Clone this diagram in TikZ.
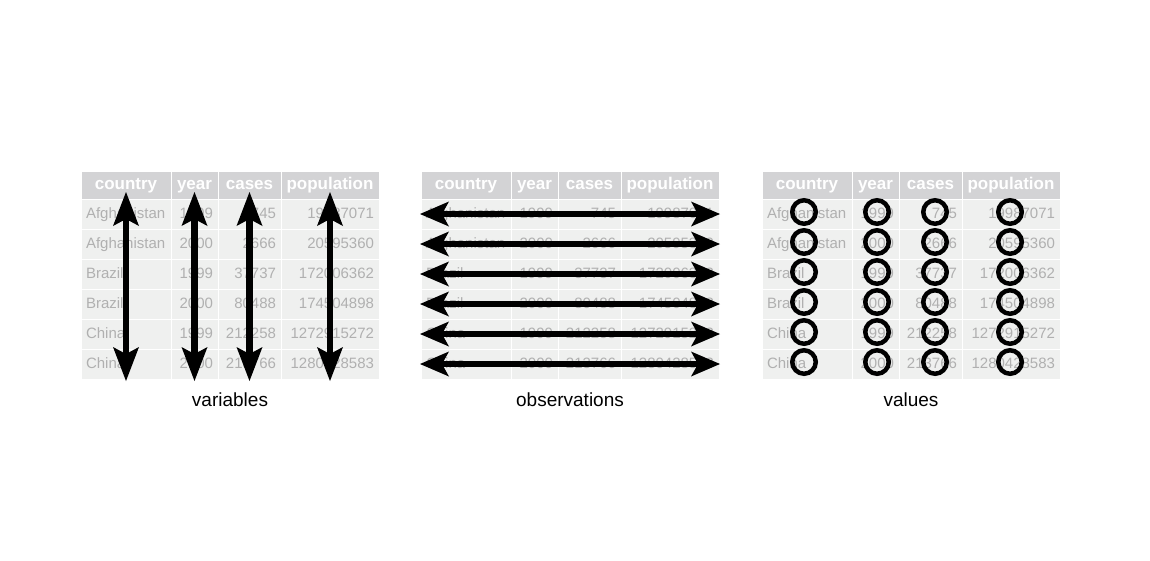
\documentclass[tikz,border=0pt]{standalone}
\usepackage{fontspec}
\setmainfont{Liberation Sans}
\usetikzlibrary{arrows.meta}

\definecolor{headgray}{HTML}{D3D3D5}
\definecolor{cellgray}{HTML}{EFF0EF}
\definecolor{textgray}{HTML}{B0B0B0}

\tikzset {
  cell/.style = {
    draw = white,
    line width = 1pt,
    inner sep = 0,
    outer sep = 0
  },
  % header cell
  hcell/.style = {
    cell,
    fill = headgray,
    minimum height = 28pt,
    text height = 12.5pt,
    text depth = 3.5pt,
    text = white,
    font = \fontsize{17}{20}\selectfont\bfseries
  },
  % data cell
  bcell/.style = {
    cell,
    fill = cellgray,
    minimum height = 30pt,
    text height = 11pt,
    text depth = 3pt,
    text = textgray,
    font = \fontsize{15}{18}\selectfont
  }
}
\tikzset {
  % double headed arrow, tip length and width
  biarrow/.style 2 args = {
    draw = black,
    line width = 6.5pt,
    arrows = {Stealth[length=#1,width=#2,inset=7pt,line width=0pt]-Stealth[length=#1,width=#2,inset=7pt,line width=0pt]}
  },
  ring/.style = {
    draw = black,
    circle,
    line width = 4.5pt,
    minimum size = 23.5pt,
    inner sep = 0
  },
  caption/.style = {
    font = \fontsize{19}{22}\selectfont
  }
}

\begin{document}
\begin{tikzpicture}[x=1pt, y=-1pt]
  \useasboundingbox (0,0) rectangle (1150,560);

  \foreach \tab/\tx in {var/81, obs/421, val/762} {
    % header row
    \foreach \name/\cx/\w [count=\c] in {country/0/90, year/90/47, cases/137/63, population/200/98} {
      \pgfmathsetmacro\mx{\tx+\cx+\w/2}
      \node[hcell, minimum width=\w pt] (\tab-h\c) at (\mx,185) {\name};
    }
    % data rows
    \foreach \ctry/\yr/\cs/\pop [count=\r] in {
        Afghanistan/1999/745/19987071,
        Afghanistan/2000/2666/20595360,
        Brazil/1999/37737/172006362,
        Brazil/2000/80488/174504898,
        China/1999/212258/1272915272,
        China/2000/213766/1280428583} {
      \pgfmathsetmacro\ry{184+30*\r}
      \node[bcell, minimum width=90pt, text width=80pt, align=left] (\tab-\r-1) at (\tx+45,\ry) {\ctry};
      \node[bcell, minimum width=47pt, text width=37pt, align=right] (\tab-\r-2) at (\tx+113.5,\ry) {\yr};
      \node[bcell, minimum width=63pt, text width=53pt, align=right] (\tab-\r-3) at (\tx+168.5,\ry) {\cs};
      \node[bcell, minimum width=98pt, text width=88pt, align=right] (\tab-\r-4) at (\tx+249,\ry) {\pop};
    }
  }

  % variables
  \foreach \c in {1,...,4}
    \draw[biarrow={34pt}{26pt}] ([yshift=-7pt]var-h\c.center) -- ([yshift=-2pt]var-6-\c.south);

  % observations
  \foreach \r in {1,...,6}
    \draw[biarrow={29pt}{25pt}] ([xshift=-1pt]obs-\r-1.west) -- ([xshift=1pt]obs-\r-4.east);

  % values
  \foreach \r in {1,...,6}
    \foreach \c/\dx in {1/-3, 2/1.5, 3/4.5, 4/-1}
      \node[ring] (val-o\r\c) at ([xshift=\dx pt, yshift=2pt]val-\r-\c.center) {};

  \node[caption] (var-cap) at (230,400) {variables};
  \node[caption] (obs-cap) at (570,400) {observations};
  \node[caption] (val-cap) at (911,400) {values};
\end{tikzpicture}
\end{document}
